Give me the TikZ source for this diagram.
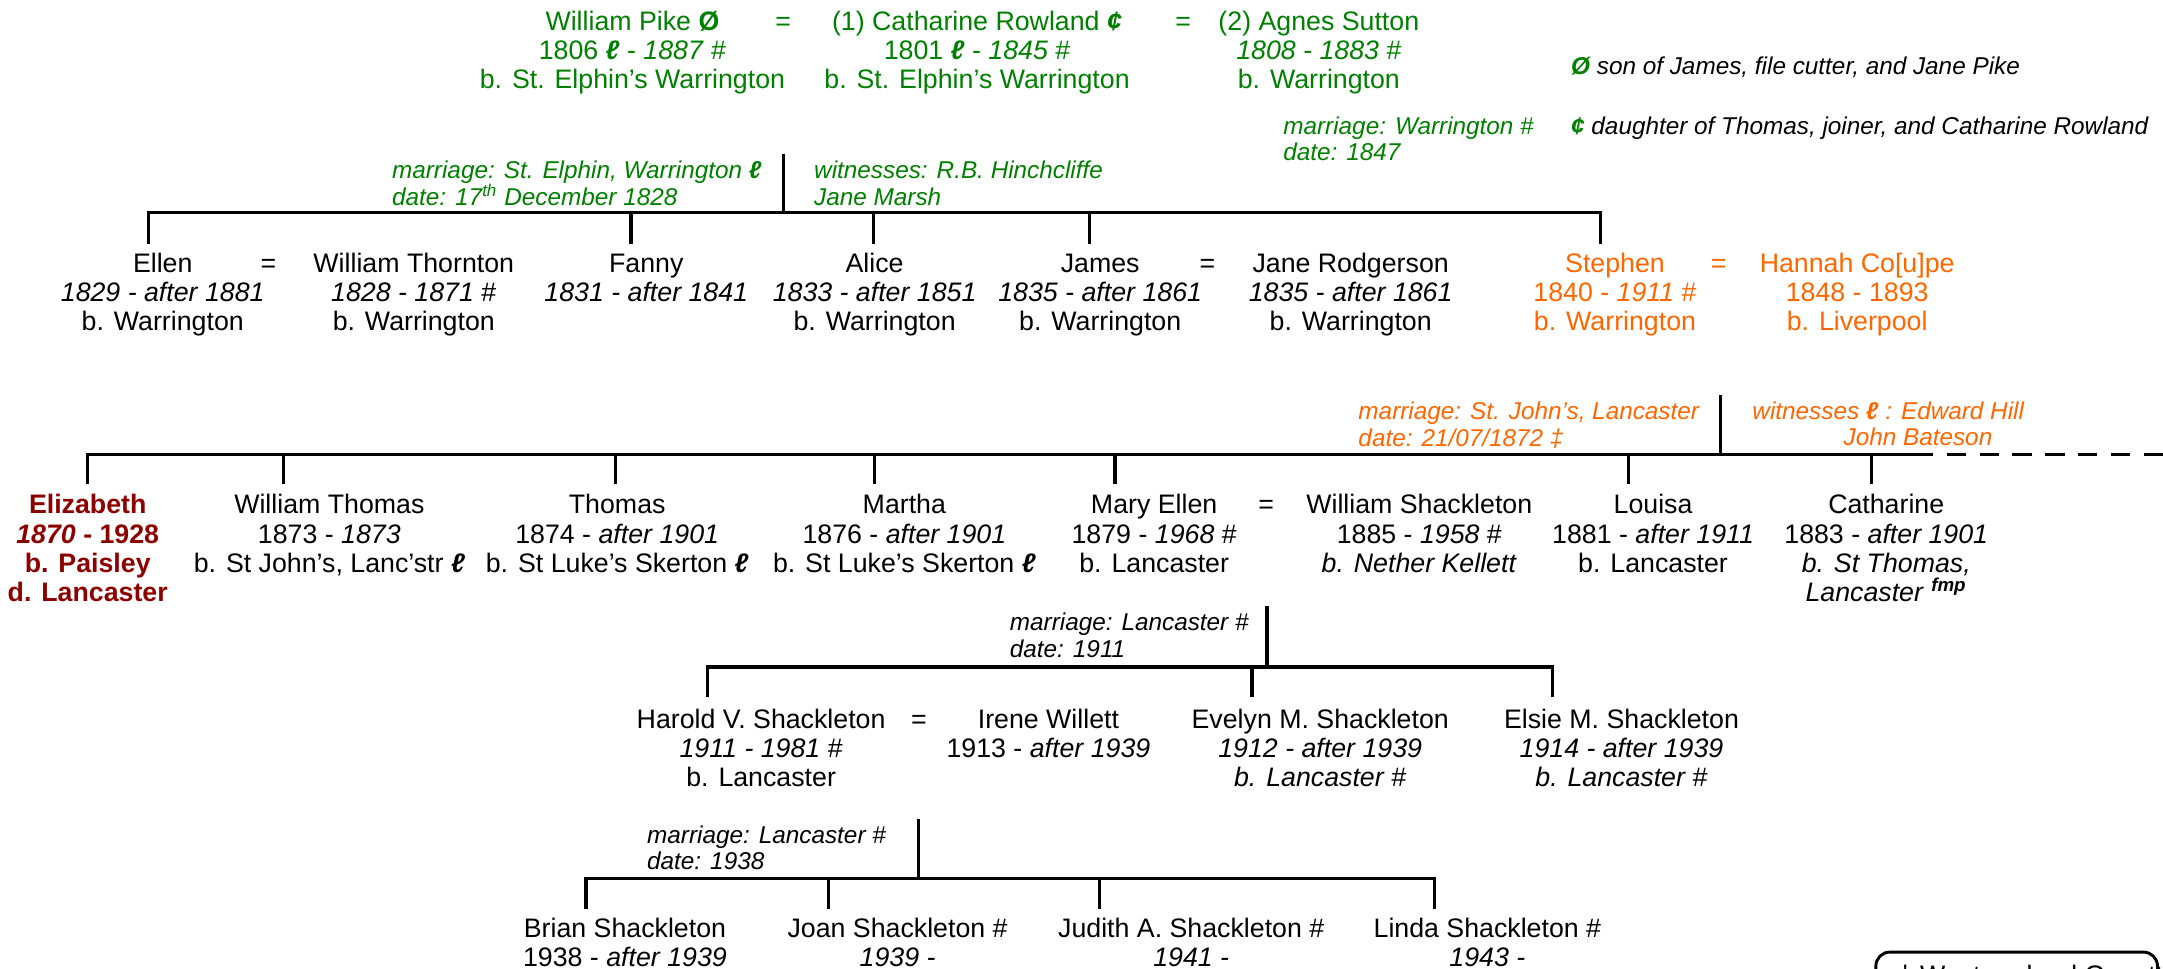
\documentclass[tikz,border=0pt]{standalone}
\usepackage{fontspec}
\setmainfont{Liberation Sans}
\definecolor{pgreen}{RGB}{0,128,0}
\definecolor{porange}{RGB}{255,102,0}
\definecolor{pred}{RGB}{140,0,0}
\newcommand\fs{\rule{0pt}{8pt}}
\newcommand\ns{\rule{0pt}{7.3pt}}
\newcommand\ellb{\textbf{\textit{ℓ}}}
\tikzset{
  person/.style={anchor=north, align=center, inner sep=0pt, font=\fontsize{11}{12}\selectfont},
  eqs/.style={anchor=north, inner sep=0pt, font=\fontsize{11}{12}\selectfont},
  note/.style={anchor=north west, align=left, inner sep=0pt, font=\fontsize{10}{11}\selectfont\itshape},
  tline/.style={line width=1.3pt},
  dline/.style={line width=1.3pt, dash pattern=on 8pt off 5.5pt},
}
\begin{document}
\begin{tikzpicture}[x=0.02cm,y=-0.02cm]
\useasboundingbox (0,0) rectangle (1563,699.5);

% ---------- generation 1 ----------
\node[person, pgreen] (wpike) at (457,7.5) {\fs William Pike \textbf{Ø}\\1806 \ellb{} - \textit{1887} \#\\b. St. Elphin’s Warrington};
\node[eqs, pgreen] (eq1) at (566,7.5) {\fs=};
\node[person, pgreen] (crow) at (706,7.5) {\fs(1) Catharine Rowland \textbf{\textit{¢}}\\1801 \ellb{} - \textit{1845} \#\\b. St. Elphin’s Warrington};
\node[eqs, pgreen] (eq2) at (855,7.5) {\fs=};
\node[person, pgreen] (asut) at (953,7.5) {\fs(2) Agnes Sutton\\\textit{1808 - 1883} \#\\b. Warrington};

\node[note, pgreen] (mwarr) at (927,83.8) {\ns marriage: Warrington \#\\date: 1847};
\node[note] (noteo) at (1135,40.5) {\ns\textcolor{pgreen}{\textbf{Ø}} son of James, file cutter, and Jane Pike};
\node[note] (notec) at (1135,83.8) {\ns\textcolor{pgreen}{\textbf{¢}} daughter of Thomas, joiner, and Catharine Rowland};

\node[note, pgreen] (mar1) at (283,116) {\ns marriage: St. Elphin, Warrington \ellb\\date: 17\textsuperscript{th} December 1828};
\node[note, pgreen] (wit1) at (588,116) {\ns witnesses: R.B. Hinchcliffe\\Jane Marsh};

\coordinate (m1) at (566,111);
\coordinate (j1) at (566,153.5);
\coordinate (c-ellen) at (107.5,176);
\coordinate (c-fanny) at (456,176);
\coordinate (c-alice) at (631,176);
\coordinate (c-james) at (787,176);
\coordinate (c-stephen) at (1156.5,176);
\draw[tline] (m1) -- (j1);
\draw[tline] (c-ellen) |- (j1) -| (c-stephen);
\draw[tline] (c-fanny) -- (c-fanny |- j1);
\draw[tline] (c-alice) -- (c-alice |- j1);
\draw[tline] (c-james) -- (c-james |- j1);

% ---------- generation 2 ----------
\node[person] (ellen) at (117.6,182.5) {\fs Ellen\\\textit{1829 - after 1881}\\b. Warrington};
\node[eqs] (eq3) at (194,182.5) {\fs=};
\node[person] (wthorn) at (299,182.5) {\fs William Thornton\\\textit{1828 - 1871} \#\\b. Warrington};
\node[person] (fanny) at (467,182.5) {\fs Fanny\\\textit{1831 - after 1841}};
\node[person] (alice) at (632,182.5) {\fs Alice\\\textit{1833 - after 1851}\\b. Warrington};
\node[person] (james) at (795,182.5) {\fs James\\\textit{1835 - after 1861}\\b. Warrington};
\node[eqs] (eq4) at (872.5,182.5) {\fs=};
\node[person] (jrodg) at (976,182.5) {\fs Jane Rodgerson\\\textit{1835 - after 1861}\\b. Warrington};
\node[person, porange] (stephen) at (1167,182.5) {\fs Stephen\\1840 - \textit{1911} \#\\b. Warrington};
\node[eqs, porange] (eq5) at (1242,182.5) {\fs=};
\node[person, porange] (hannah) at (1342,182.5) {\fs Hannah Co[u]pe\\1848 - 1893\\b. Liverpool};

\node[note, porange] (mar2) at (981.3,289.8) {\ns marriage: St. John’s, Lancaster\\date: 21/07/1872 ‡};
\node[note, porange] (wit2a) at (1266,289.8) {\ns witnesses \ellb{} : Edward Hill};
\node[note, porange, anchor=north east] (wit2b) at (1440,309) {\ns John Bateson};

\coordinate (m2) at (1243.4,285.5);
\coordinate (j2) at (1243.4,328.5);
\coordinate (j2s) at (1383,328.5);
\coordinate (j2e) at (1575,328.5);
\coordinate (c-eliz) at (63.4,350);
\coordinate (c-wthom) at (205,350);
\coordinate (c-thomas) at (445,350);
\coordinate (c-martha) at (631.8,350);
\coordinate (c-mellen) at (805.7,350);
\coordinate (c-louisa) at (1177,350);
\coordinate (c-cath) at (1352.5,350);
\draw[tline] (m2) -- (j2);
\draw[tline] (c-eliz) |- (j2) -- (j2s);
\draw[dline] (j2s) -- (j2e);
\draw[tline] (c-wthom) -- (c-wthom |- j2);
\draw[tline] (c-thomas) -- (c-thomas |- j2);
\draw[tline] (c-martha) -- (c-martha |- j2);
\draw[tline] (c-mellen) -- (c-mellen |- j2);
\draw[tline] (c-louisa) -- (c-louisa |- j2);
\draw[tline] (c-cath) -- (c-cath |- j2);

% ---------- generation 3 ----------
\node[person, pred, font=\fontsize{11}{12}\selectfont\bfseries] (eliz) at (63.4,357) {\fs Elizabeth\\\textit{1870} - 1928\\b. Paisley\\d. Lancaster};
\node[person] (wthomas) at (238,357) {\fs William Thomas\\1873 - \textit{1873}\\b. St John’s, Lanc’str \ellb};
\node[person] (thomas) at (446,357) {\fs Thomas\\1874 - \textit{after 1901}\\b. St Luke’s Skerton \ellb};
\node[person] (martha) at (653.5,357) {\fs Martha\\1876 - \textit{after 1901}\\b. St Luke’s Skerton \ellb};
\node[person] (mellen) at (834,357) {\fs Mary Ellen\\1879 - \textit{1968} \#\\b. Lancaster};
\node[eqs] (eq6) at (915,357) {\fs=};
\node[person] (wshack) at (1025.6,357) {\fs William Shackleton\\1885 - \textit{1958} \#\\\textit{b. Nether Kellett}};
\node[person] (louisa) at (1194.5,357) {\fs Louisa\\1881 - \textit{after 1911}\\b. Lancaster};
\node[person] (cath) at (1363,357) {\fs Catharine\\1883 - \textit{after 1901}\\\textit{b. St Thomas,}\\\textit{Lancaster} \textsuperscript{\textbf{\textit{fmp}}}};

\node[note] (mar3) at (729.4,442.5) {\ns marriage: Lancaster \#\\date: 1911};
\coordinate (m3) at (915.5,438);
\coordinate (j3) at (915.5,482);
\coordinate (c-harold) at (511,504);
\coordinate (c-evelyn) at (904.7,504);
\coordinate (c-elsie) at (1122,504);
\draw[tline] (m3) -- (j3);
\draw[tline] (c-harold) |- (j3) -| (c-elsie);
\draw[tline] (c-evelyn) -- (c-evelyn |- j3);

% ---------- generation 4 ----------
\node[person] (harold) at (550,512) {\fs Harold V. Shackleton\\\textit{1911 - 1981} \#\\b. Lancaster};
\node[eqs] (eq7) at (664,512) {\fs=};
\node[person] (irene) at (757.6,512) {\fs Irene Willett\\1913 - \textit{after 1939}};
\node[person] (evelyn) at (954,512) {\fs Evelyn M. Shackleton\\\textit{1912 - after 1939}\\\textit{b. Lancaster \#}};
\node[person] (elsie) at (1171.7,512) {\fs Elsie M. Shackleton\\\textit{1914 - after 1939}\\\textit{b. Lancaster \#}};

\node[note] (mar4) at (467.3,596) {\ns marriage: Lancaster \#\\date: 1938};
\coordinate (m4) at (664,592);
\coordinate (j4) at (664,635);
\coordinate (c-brian) at (423.5,657);
\coordinate (c-joan) at (598.6,657);
\coordinate (c-judith) at (794.5,657);
\coordinate (c-linda) at (1036.4,657);
\draw[tline] (m4) -- (j4);
\draw[tline] (c-brian) |- (j4) -| (c-linda);
\draw[tline] (c-joan) -- (c-joan |- j4);
\draw[tline] (c-judith) -- (c-judith |- j4);

% ---------- generation 5 ----------
\node[person] (brian) at (451.6,663) {\fs Brian Shackleton\\1938 - \textit{after 1939}};
\node[person] (joan) at (648.6,663) {\fs Joan Shackleton \#\\\textit{1939 -}};
\node[person] (judith) at (860.8,663) {\fs Judith A. Shackleton \#\\\textit{1941 -}};
\node[person] (linda) at (1074.8,663) {\fs Linda Shackleton \#\\\textit{1943 -}};

% ---------- source box (cut by the page edge) ----------
\draw[line width=1.2pt, rounded corners=0.2cm] (1355.5,688) rectangle (1559,740);
\node[anchor=north west, inner sep=0pt, font=\fontsize{11}{12}\selectfont] (srcbox) at (1371,697) {‡ Westmorland Gazette};
\end{tikzpicture}
\end{document}
